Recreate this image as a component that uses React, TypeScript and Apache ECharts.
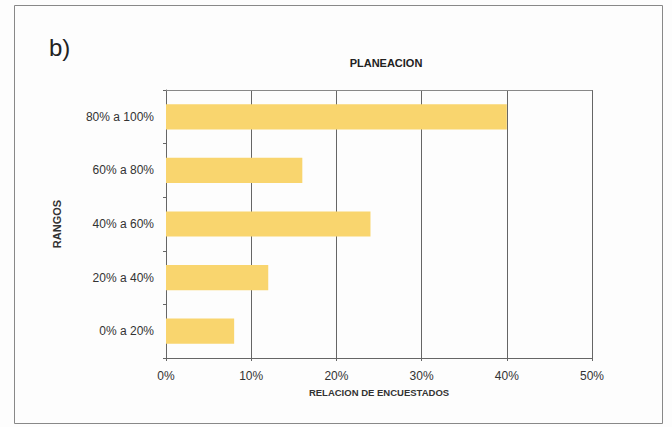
import React, { useEffect, useRef } from "react";
import * as echarts from "echarts";

const categories = ["0% a 20%", "20% a 40%", "40% a 60%", "60% a 80%", "80% a 100%"];
const values = [8, 12, 24, 16, 40];
const xTicks = [0, 10, 20, 30, 40, 50];

export default function App() {
  const ref = useRef<HTMLDivElement>(null);
  useEffect(() => {
    const chart = echarts.init(ref.current!, null, { renderer: "svg" });
    const font = "Liberation Sans, Arial, sans-serif";
    chart.setOption({
      animation: false,
      backgroundColor: "#fdfdfd",
      graphic: [
        {
          type: "rect",
          shape: { x: 14.5, y: 5.5, width: 648, height: 418 },
          style: { fill: "none", stroke: "#888", lineWidth: 1 },
        },
        {
          type: "text",
          left: 49,
          top: 35,
          style: { text: "b)", fontSize: 24, fontFamily: font, fill: "#222" },
        },
      ],
      title: {
        text: "PLANEACION",
        left: 381,
        top: 52,
        textAlign: "center",
        textStyle: { fontSize: 11, fontWeight: "bold", fontFamily: font, color: "#222" },
      },
      grid: { left: 166, right: 80, top: 90, bottom: 69, show: false },
      xAxis: [
        {
          type: "value",
          min: 0,
          max: 50,
          interval: 10,
          name: "RELACION DE ENCUESTADOS",
          nameLocation: "middle",
          nameGap: 29,
          nameTextStyle: { fontSize: 9.5, fontWeight: "bold", fontFamily: font, color: "#333" },
          axisLine: { show: true, lineStyle: { color: "#666" } },
          axisTick: { show: true, length: 3, lineStyle: { color: "#666" } },
          axisLabel: {
            fontSize: 12,
            fontFamily: font,
            color: "#333",
            margin: 12,
            formatter: (v: number) => (xTicks.includes(v) ? v + "%" : ""),
          },
          splitLine: { show: true, lineStyle: { color: "#666", width: 1 } },
        },
        {
          type: "value",
          position: "top",
          min: 0,
          max: 50,
          interval: 10,
          axisLine: { show: true, lineStyle: { color: "#888" } },
          axisTick: { show: false },
          axisLabel: { show: false },
          splitLine: { show: false },
        },
      ],
      yAxis: {
        type: "category",
        data: categories,
        name: "RANGOS",
        nameLocation: "middle",
        nameGap: 104,
        nameRotate: 90,
        nameTextStyle: { fontSize: 11, fontWeight: "bold", fontFamily: font, color: "#333" },
        axisLine: { show: true, lineStyle: { color: "#666" } },
        axisTick: { show: true, length: 3, lineStyle: { color: "#666" } },
        axisLabel: { fontSize: 12, fontFamily: font, color: "#333", margin: 12 },
      },
      series: [
        {
          type: "bar",
          data: values,
          barCategoryGap: "53%",
          itemStyle: { color: "#F9D56E" },
        },
      ],
    });
    return () => chart.dispose();
  }, []);
  return (
    <div
      ref={ref}
      style={{ position: "fixed", left: 0, top: 0, width: 672, height: 427 }}
    />
  );
}
